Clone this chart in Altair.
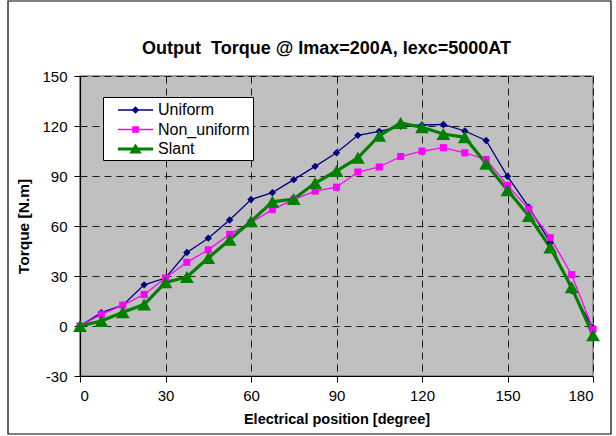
import altair as alt
import pandas as pd

positions = [0, 7.5, 15, 22.5, 30, 37.5, 45, 52.5, 60, 67.5, 75, 82.5, 90,
             97.5, 105, 112.5, 120, 127.5, 135, 142.5, 150, 157.5, 165, 172.5, 180]
uniform = [0, 8, 12.5, 24.7, 28.8, 44.1, 52.7, 63.6, 75.9, 80, 87.8, 95.8, 103.9,
           114.4, 116.8, 119.8, 120.6, 120.9, 117, 111.3, 89.8, 71.3, 50, 21.3, -1]
non_uniform = [0, 7, 12.5, 18.9, 28.8, 38.2, 45.7, 55, 62, 69.8, 76, 80.9, 83.3,
               92.4, 95.4, 101.7, 104.9, 107, 103.9, 99.9, 84.4, 70.1, 53, 30.8, -2]
slant = [0, 3, 8.3, 12.9, 26.2, 29.4, 40.8, 51.7, 62.8, 74.5, 76.2, 85.8, 93,
         100.9, 114.2, 121.8, 119.2, 115.2, 113.2, 97.4, 81.5, 66, 47.1, 23.2, -5.5]

series_names = ["Uniform", "Non_uniform", "Slant"]
series_colors = ["#000080", "#FF00FF", "#008000"]
series_shapes = ["diamond", "square", "triangle-up"]
series_sizes = [55, 50, 190]
series_widths = [1.3, 1.3, 3.2]

rows = []
for name, vals in zip(series_names, [uniform, non_uniform, slant]):
    for p, v in zip(positions, vals):
        rows.append({"pos": p, "torque": v, "series": name})
df = pd.DataFrame(rows)

W, H = 513, 300

x_enc = alt.X("pos:Q", scale=alt.Scale(domain=[0, 180], nice=False),
              axis=alt.Axis(values=[0, 30, 60, 90, 120, 150, 180],
                            title="Electrical position [degree]", titleFontSize=14.5,
                            labelExpr="'' + datum.value"))
y_enc = alt.Y("torque:Q", scale=alt.Scale(domain=[-30, 150], nice=False),
              axis=alt.Axis(values=[-30, 0, 30, 60, 90, 120, 150],
                            title="Torque [N.m]", titleFontSize=15.5,
                            labelExpr="'' + datum.value"))

base = alt.Chart(df)

layers = []
for name, col, sw in zip(series_names, series_colors, series_widths):
    sub = base.transform_filter(alt.datum.series == name)
    layers.append(sub.mark_line(color=col, strokeWidth=sw).encode(x=x_enc, y=y_enc))
for name, col, shp, sz in zip(series_names, series_colors, series_shapes, series_sizes):
    sub = base.transform_filter(alt.datum.series == name)
    layers.append(sub.mark_point(filled=True, opacity=1, color=col, shape=shp,
                                 size=sz).encode(x=x_enc, y=y_enc))

leg_paths = [
    "M-1.75,-0.07H1.75V0.07H-1.75Z M0,-0.38L0.38,0L0,0.38L-0.38,0Z",
    "M-1.75,-0.07H1.75V0.07H-1.75Z M-0.33,-0.33H0.33V0.33H-0.33Z",
    "M-1.75,-0.15H1.75V0.15H-1.75Z M0,-0.55L0.62,0.45H-0.62Z",
]

leg_cfg = dict(title=None, orient="none", legendX=23, legendY=21,
               direction="vertical", padding=3,
               symbolSize=400, symbolOffset=19.5, labelOffset=12.5,
               symbolOpacity=1, symbolStrokeWidth=0,
               fillColor="white", strokeColor="black",
               labelFont="Liberation Sans", labelFontSize=16,
               labelColor="black", rowPadding=1.5,
               labelBaseline="middle", labelLimit=300)

legend_layer = base.mark_point(filled=True, opacity=0).encode(
    x=x_enc, y=y_enc,
    color=alt.Color("series:N", scale=alt.Scale(domain=series_names, range=series_colors),
                    legend=alt.Legend(**leg_cfg)),
    shape=alt.Shape("series:N", scale=alt.Scale(domain=series_names, range=leg_paths),
                    legend=alt.Legend(**leg_cfg)),
)

frame = alt.Chart(pd.DataFrame({"pos": [0]})).mark_rect(
    fill=None, stroke="black", strokeWidth=1.2
).encode(
    x=alt.value(-72), x2=alt.value(531), y=alt.value(-75), y2=alt.value(358)
)

chart = alt.layer(frame, *layers, legend_layer).properties(
    width=W, height=H,
    padding={"left": 80, "top": 76, "right": 23, "bottom": 60},
    autosize=alt.AutoSizeParams(type="none"),
    background="white",
    title=alt.TitleParams("Output\u00a0 Torque @ Imax=200A, Iexc=5000AT",
                          font="Liberation Sans", fontSize=18, fontWeight="bold",
                          color="black", anchor="middle", frame="group",
                          baseline="bottom", offset=-76, dx=-10),
).configure_view(
    fill="#C0C0C0", stroke="#808080", strokeWidth=1.5
).configure_axis(
    labelFont="Liberation Sans", labelFontSize=15, labelColor="black",
    titleFont="Liberation Sans", titleFontWeight="bold", titleColor="black",
    domainColor="black", domainWidth=1.2, tickColor="black", tickSize=6,
    grid=True, gridColor="black", gridDash=[7, 5], gridWidth=1, gridOpacity=0.85,
).configure_axisY(
    labelPadding=7, titlePadding=10
).configure_axisX(
    labelPadding=6, titlePadding=9
)

chart.save("out.html", embed_options={"renderer": "svg", "actions": False})
